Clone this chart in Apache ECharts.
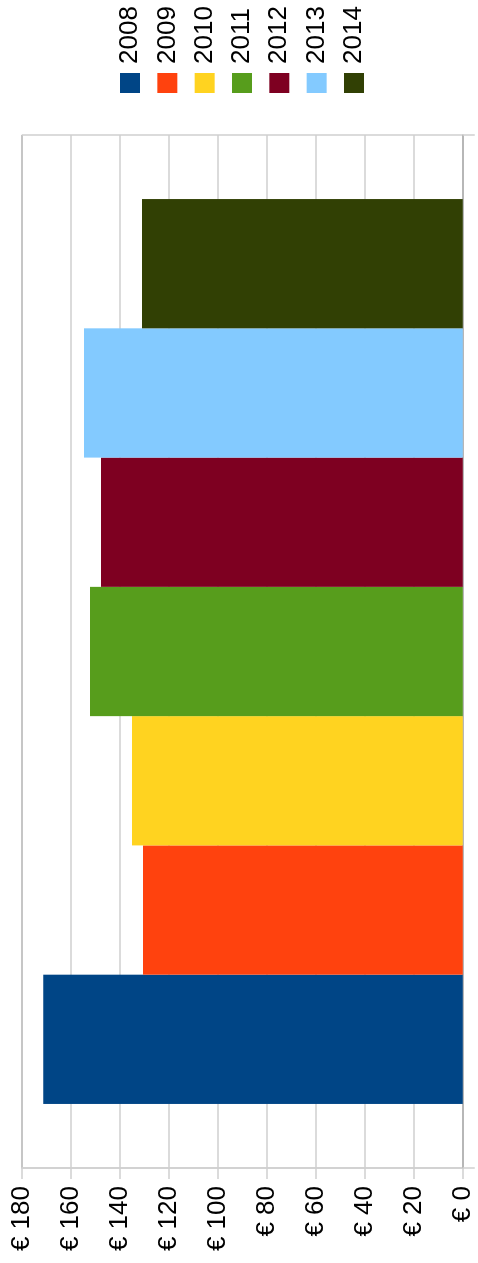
<!DOCTYPE html>
<html>
<head>
<meta charset="utf-8">
<script src="https://cdn.jsdelivr.net/npm/echarts@6/dist/echarts.min.js"></script>
<style>
  html, body { margin: 0; padding: 0; width: 478px; height: 1263px; overflow: hidden; background: #ffffff; }
  #chart {
    position: absolute; left: 0; top: 0;
    width: 1263px; height: 478px;
    transform-origin: 0 0;
    transform: translate(0px, 1263px) rotate(-90deg);
  }
</style>
</head>
<body>
<div id="chart"></div>
<script>
// ---- data ----
const categories = ['Prijs'];
const years = ['2008', '2009', '2010', '2011', '2012', '2013', '2014'];
const values = [171.2, 130.5, 135.0, 152.1, 147.6, 154.6, 130.9];
const valueTicks = { min: 0, max: 180, interval: 20 };
const palette = ['#004586', '#ff420e', '#ffd320', '#579d1c', '#7e0021', '#83caff', '#314004'];

const FONT = '"Liberation Sans", Arial, sans-serif';
const gridLight = '#cfcfcf';
const gridDark = '#b3b3b3';

const splitColors = [gridDark];
for (let i = 1; i < 9; i++) splitColors.push(gridLight);
splitColors.push(gridDark);

const series = years.map((y, i) => ({
  name: y,
  type: 'bar',
  data: [values[i]],
  barGap: 0,
  barCategoryGap: '12.4%',
  itemStyle: { color: palette[i] },
  emphasis: { disabled: true }
}));

const chart = echarts.init(document.getElementById('chart'), null, { width: 1263, height: 478 });
chart.setOption({
  animation: false,
  backgroundColor: '#ffffff',
  textStyle: { fontFamily: FONT },
  grid: { left: 95, right: 135, top: 21.7, bottom: 15.3, containLabel: false },
  legend: {
    orient: 'vertical',
    left: 1170,
    top: 117,
    padding: 0,
    itemWidth: 20,
    itemHeight: 20,
    itemGap: 11.33,
    icon: 'rect',
    selectedMode: false,
    data: years,
    textStyle: {
      fontFamily: FONT, fontSize: 26, color: '#000000',
      lineHeight: 20, padding: [6, 0, 0, 4]
    }
  },
  xAxis: {
    type: 'category',
    data: categories,
    boundaryGap: true,
    axisLine: { show: true, lineStyle: { color: gridDark, width: 1.5 } },
    axisTick: { show: true, length: 12, lineStyle: { color: gridLight, width: 1.5 } },
    axisLabel: { show: false },
    splitLine: { show: true, lineStyle: { color: gridLight, width: 1.5 } }
  },
  yAxis: {
    type: 'value',
    min: valueTicks.min,
    max: valueTicks.max,
    interval: valueTicks.interval,
    position: 'left',
    axisLine: { show: true, lineStyle: { color: gridLight, width: 1.5 } },
    axisTick: { show: true, length: 11, lineStyle: { color: gridLight, width: 1.5 } },
    axisLabel: {
      fontFamily: FONT, fontSize: 26, color: '#000000', margin: 18,
      formatter: v => '€ ' + v
    },
    splitLine: { show: true, lineStyle: { color: splitColors, width: 1.5 } }
  },
  series: series
});
</script>
</body>
</html>
